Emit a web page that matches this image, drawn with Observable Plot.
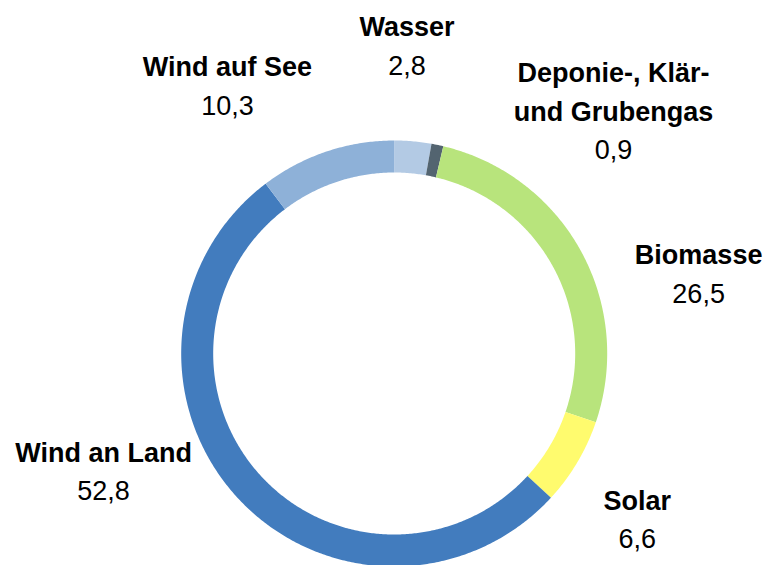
<!DOCTYPE html>
<html>
<head>
<meta charset="utf-8">
<script src="https://cdn.jsdelivr.net/npm/d3@7"></script>
<script src="https://cdn.jsdelivr.net/npm/@observablehq/plot@0.6"></script>
<style>
  html, body { margin: 0; padding: 0; background: #ffffff; }
  #chart svg { display: block; }
</style>
</head>
<body>
<div id="chart"></div>
<script>
// ---- data ----
const categories = ["Wasser", "Deponie-, Klär- und Grubengas", "Biomasse", "Solar", "Wind an Land", "Wind auf See"];
const categoryLabels = ["Wasser", "Deponie-, Klär-\nund Grubengas", "Biomasse", "Solar", "Wind an Land", "Wind auf See"];
const values = [2.8, 0.9, 26.5, 6.6, 52.8, 10.3];
const valueLabels = ["2,8", "0,9", "26,5", "6,6", "52,8", "10,3"];

// ---- styles / layout (kept separate from data) ----
const colors = ["#B3CAE4", "#536470", "#B8E47C", "#FFFB6E", "#427CBE", "#8EB1D8"];
// label nudges in pixels from the outer mid-point of each slice (to last name baseline)
const labelNudge = [[-6, -105], [176, -24], [118, 14], [60, 47.5], [-133, -35], [-99, -75.5]];
const W = 765, H = 565;
const cx = 393.7, cy = 353, R = 213, innerRatio = 181 / 213;
const font = "'Liberation Sans', Arial, sans-serif";
const fontSize = 27, lineGap = 38.5;

// ---- geometry derived from data ----
const arcs = d3.pie().sort(null).value(d => d)(values);
const ringPoints = [];
arcs.forEach((a, i) => {
  const span = a.endAngle - a.startAngle;
  const n = Math.max(2, Math.ceil(span / (Math.PI / 360)));
  const angles = d3.range(n + 1).map(k => a.startAngle + span * k / n);
  for (const t of angles) ringPoints.push({cat: categories[i], x: Math.sin(t), y: Math.cos(t)});
  for (const t of angles.slice().reverse()) ringPoints.push({cat: categories[i], x: innerRatio * Math.sin(t), y: innerRatio * Math.cos(t)});
});

const labels = arcs.map((a, i) => {
  const mid = (a.startAngle + a.endAngle) / 2;
  return {
    name: categoryLabels[i],
    value: valueLabels[i],
    x: Math.sin(mid) + labelNudge[i][0] / R,
    y: Math.cos(mid) - labelNudge[i][1] / R
  };
});

const chart = Plot.plot({
  width: W,
  height: H,
  margin: 0,
  style: {background: "#ffffff", fontFamily: font, color: "#000000"},
  x: {domain: [-1, 1], range: [cx - R, cx + R], axis: null},
  y: {domain: [-1, 1], range: [cy + R, cy - R], axis: null},
  color: {domain: categories, range: colors},
  marks: [
    Plot.line(ringPoints, {x: "x", y: "y", z: "cat", fill: "cat", stroke: "none", curve: "linear"}),
    Plot.text(labels, {
      x: "x", y: "y", text: "name",
      fontSize, fontWeight: "bold", fontFamily: font, fill: "#000000",
      textAnchor: "middle", lineAnchor: "bottom", lineHeight: lineGap / fontSize
    }),
    Plot.text(labels, {
      x: "x", y: "y", text: "value", dy: lineGap,
      fontSize, fontWeight: "normal", fontFamily: font, fill: "#000000",
      textAnchor: "middle", lineAnchor: "bottom"
    })
  ]
});
document.getElementById("chart").appendChild(chart);
</script>
</body>
</html>
